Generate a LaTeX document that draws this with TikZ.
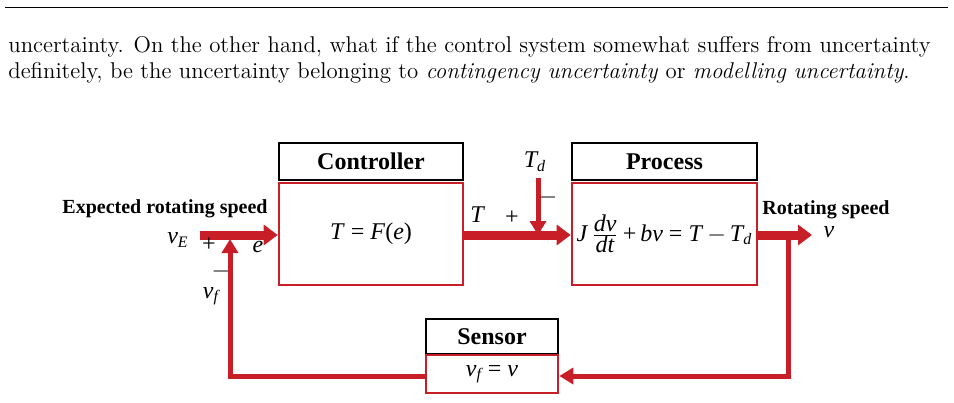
\documentclass[tikz,border=0pt]{standalone}
\usepackage{fontspec}
\usepackage{tikz}
\usetikzlibrary{arrows.meta}
\newfontfamily\tnr{Liberation Serif}
\definecolor{blkred}{RGB}{200,30,40}
\begin{document}
\begin{tikzpicture}[x=0.5pt,y=-0.5pt,
  title/.style={draw, line width=0.8pt, font=\tnr\bfseries\fontsize{12}{14}\selectfont, inner sep=0pt},
  body/.style={draw=blkred, line width=1.3pt, inner sep=0pt, font=\tnr\fontsize{12}{14}\selectfont},
  lbl/.style={inner sep=0pt, font=\tnr\fontsize{12}{14}\selectfont},
  blbl/.style={inner sep=0pt, font=\tnr\bfseries\fontsize{10}{12}\selectfont},
  big/.style={blkred, line width=4.5pt, -{Triangle[length=7pt,width=10pt]}},
  thin/.style={blkred, line width=2.5pt, -{Triangle[length=7pt,width=8pt]}}]
\useasboundingbox (0,0) rectangle (954,402);
% page text
\draw[line width=0.4pt] (5,7) -- (948,7);
\node[anchor=base west, inner sep=0pt, font=\fontsize{11.4}{13}\selectfont] (L1) at (8,52) {uncertainty. On the other hand, what if the control system somewhat suffers from uncertainty};
\node[anchor=base west, inner sep=0pt, font=\fontsize{11.4}{13}\selectfont] (L2) at (8,78) {definitely, be the uncertainty belonging to \emph{contingency uncertainty} or \emph{modelling uncertainty}.};
% blocks
\node[title, minimum width=92pt, minimum height=18.5pt] (ctrlT) at (371,161.5) {Controller};
\node[body, minimum width=92pt, minimum height=51pt] (ctrl) at (371,234) {\itshape T\/ \upshape= \itshape F\/\upshape(\itshape e\/\upshape)};
\node[title, minimum width=92.5pt, minimum height=18.5pt] (procT) at (664.5,161.5) {Process};
\node[body, minimum width=92.5pt, minimum height=51pt] (proc) at (664.5,234) {\itshape J\,$\frac{\mbox{\tnr\itshape dv}}{\mbox{\tnr\itshape dt}}$\upshape\,+\,\itshape bv\/\upshape\ =\ \itshape T\/\upshape\,$-$\,\itshape T\textsubscript{d}};
\node[title, minimum width=66pt, minimum height=17.5pt] (sensT) at (492,336.5) {Sensor};
\node[body, minimum width=66pt, minimum height=19pt] (sens) at (492,374) {\itshape v\textsubscript{f}\upshape\ =\ \itshape v};
% points
\coordinate (in) at (200,235);
\coordinate (sum) at (230,235);
\coordinate (dist) at (538,178);
\coordinate (dsum) at (538,235);
\coordinate (out) at (812,235);
\coordinate (br) at (788,235);
\coordinate (brd) at (788,376);
\coordinate (fbl) at (230,376);
% connectors
\draw[big] (in) -- (ctrl.west |- in);
\draw[big] (ctrl.east |- in) -- (proc.west |- in);
\draw[big] (proc.east |- in) -- (out);
\draw[thin] (dist) -- (dsum);
\draw[thin] (sens.west |- fbl) -- (fbl) -- ([yshift=-2]sum);
\draw[thin] (br) -- (brd) -- (sens.east |- brd);
% labels
\node[blbl] (exp) at (165,209) {Expected rotating speed};
\node[lbl] (vE) at (178,240) {\itshape v\textsubscript{E}};
\node[lbl] (p1) at (209,245) {+};
\node[lbl] (e) at (258,247) {\itshape e};
\node[lbl] (m1) at (221,271) {$-$};
\node[lbl] (vf) at (211,296) {\itshape v\textsubscript{f}};
\node[lbl] (T) at (477,215) {\itshape T};
\node[lbl] (p2) at (512,218) {+};
\node[lbl] (Td) at (535,162) {\itshape T\textsubscript{d}};
\node[lbl] (m2) at (548,197) {$-$};
\node[blbl] (rot) at (826,210) {Rotating speed};
\node[lbl] (v) at (829,232) {\itshape v};
\end{tikzpicture}
\end{document}
